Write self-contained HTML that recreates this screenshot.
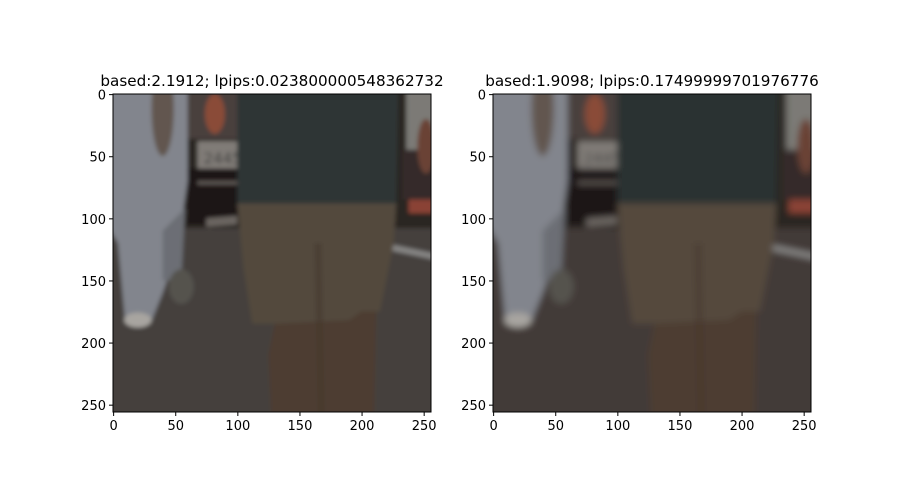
<!DOCTYPE html>
<html><head><meta charset="utf-8"><style>
body{margin:0;background:#fff;}
svg{display:block;font-family:"DejaVu Sans","Liberation Sans",sans-serif;}
</style></head><body>
<svg id="fig" width="900" height="500" viewBox="0 0 900 500">
<defs>
<filter id="b1" x="-0.1" y="-0.1" width="1.2" height="1.2"><feGaussianBlur stdDeviation="1.8"/></filter>
<filter id="b2" x="-0.1" y="-0.1" width="1.2" height="1.2"><feGaussianBlur stdDeviation="2.8"/></filter>
<clipPath id="c"><rect x="0" y="0" width="256" height="256"/></clipPath>
</defs>
<g id="panels"></g>
</svg>
<script>
const titles=["based:2.1912; lpips:0.023800000548362732","based:1.9098; lpips:0.17499999701976776"];
const tickVals=[0,50,100,150,200,250];
const imgSize=[256,256];
const panelLeft=[113,493];
const roadColors=["#45413d","#433b37"];
const ns="http://www.w3.org/2000/svg";
const top0=94, side=318;
function mk(t,a,p){const e=document.createElementNS(ns,t);for(const k in a)e.setAttribute(k,a[k]);p&&p.appendChild(e);return e;}
function sceneMarkup(road,dark,shorts,legs){
 return `
<rect x="-20" y="-20" width="296" height="296" fill="${road}"/>
<rect x="-20" y="-20" width="296" height="128" fill="#2a2523"/>
<polygon points="-20,106 276,130 276,145 -20,118" fill="${road}"/>
<rect x="60" y="60" width="50" height="45" fill="#1d1817"/>
<rect x="68" y="38" width="40" height="22" fill="#807c77"/>
<text x="73" y="56" font-size="12" fill="#3a3a3a">2445</text>
<rect x="68" y="70" width="40" height="3" fill="#5e5954"/>
<rect x="60" y="-20" width="50" height="56" fill="#4a403c"/>
<ellipse cx="82" cy="16" rx="8" ry="16" fill="#8a4c38"/>
<polygon points="75,100 100,98 100,105 75,107" fill="#6a6560"/>
<polygon points="200,116 276,132 276,137 200,121" fill="#868584"/>
<rect x="236" y="-20" width="40" height="65" fill="#7c7a76"/>
<rect x="233" y="45" width="43" height="40" fill="#352c29"/>
<rect x="238" y="85" width="38" height="11" fill="#8a4236"/>
<ellipse cx="252" cy="42" rx="7" ry="22" fill="#6a4236"/>
<polygon points="-20,-20 60,-20 60,70 52,125 40,160 30,185 10,185 4,120 -20,80" fill="#82858d"/>
<polygon points="40,110 58,92 55,150 40,150" fill="#6c6e74"/>
<ellipse cx="55" cy="155" rx="10" ry="14" fill="#55524e"/>
<ellipse cx="20" cy="182" rx="11" ry="6" fill="#a8a5a0"/>
<ellipse cx="40" cy="12" rx="9" ry="38" fill="#62564f"/>
<polygon points="100,-20 230,-20 228,92 100,92" fill="${dark}"/>
<polygon points="100,88 228,88 226,120 215,175 195,180 190,182 130,185 112,185 105,140" fill="${shorts}"/>
<polygon points="130,185 190,182 200,175 212,175 210,276 128,276 125,210" fill="${legs}"/>
<line x1="165" y1="120" x2="168" y2="276" stroke="#413429" stroke-width="6" opacity="0.35"/>`;
}
const panels=document.getElementById('panels');
titles.forEach((t,i)=>{
 const L=panelLeft[i];
 const g=mk('g',{},panels);
 
 
 const outer=mk('g',{transform:`translate(${L},${top0}) scale(${side/imgSize[0]})`,'clip-path':'url(#c)'},g);
 const img=mk('g',{filter:i?'url(#b2)':'url(#b1)'},outer);
 img.innerHTML=i?sceneMarkup(roadColors[i],'#2b3133','#54483d','#4e3d33'):sceneMarkup(roadColors[i],'#2d3436','#53483c','#4d3e33');
 
 
 const fr=mk('rect',{x:L,y:top0,width:side,height:side,fill:'none',stroke:'#000','stroke-width':1},g);
 
 
 const tt=mk('text',{x:L+side/2,y:top0-8,'text-anchor':'middle','font-size':15.2,fill:'#000'},g);
 tt.textContent=t;
 
 
 tickVals.forEach(v=>{
  const p=(v+0.5)*side/imgSize[0];
  mk('line',{x1:L+p,x2:L+p,y1:top0+side,y2:top0+side+4,stroke:'#000'},g);
  const xl=mk('text',{x:L+p,y:top0+side+18,'text-anchor':'middle','font-size':13},g);
  xl.textContent=v;
  
  
  mk('line',{x1:L-4,x2:L,y1:top0+p,y2:top0+p,stroke:'#000'},g);
  const yl=mk('text',{x:L-7,y:top0+p+5,'text-anchor':'end','font-size':13},g);
  yl.textContent=v;
  
  
 });
});
</script>
</body></html>
